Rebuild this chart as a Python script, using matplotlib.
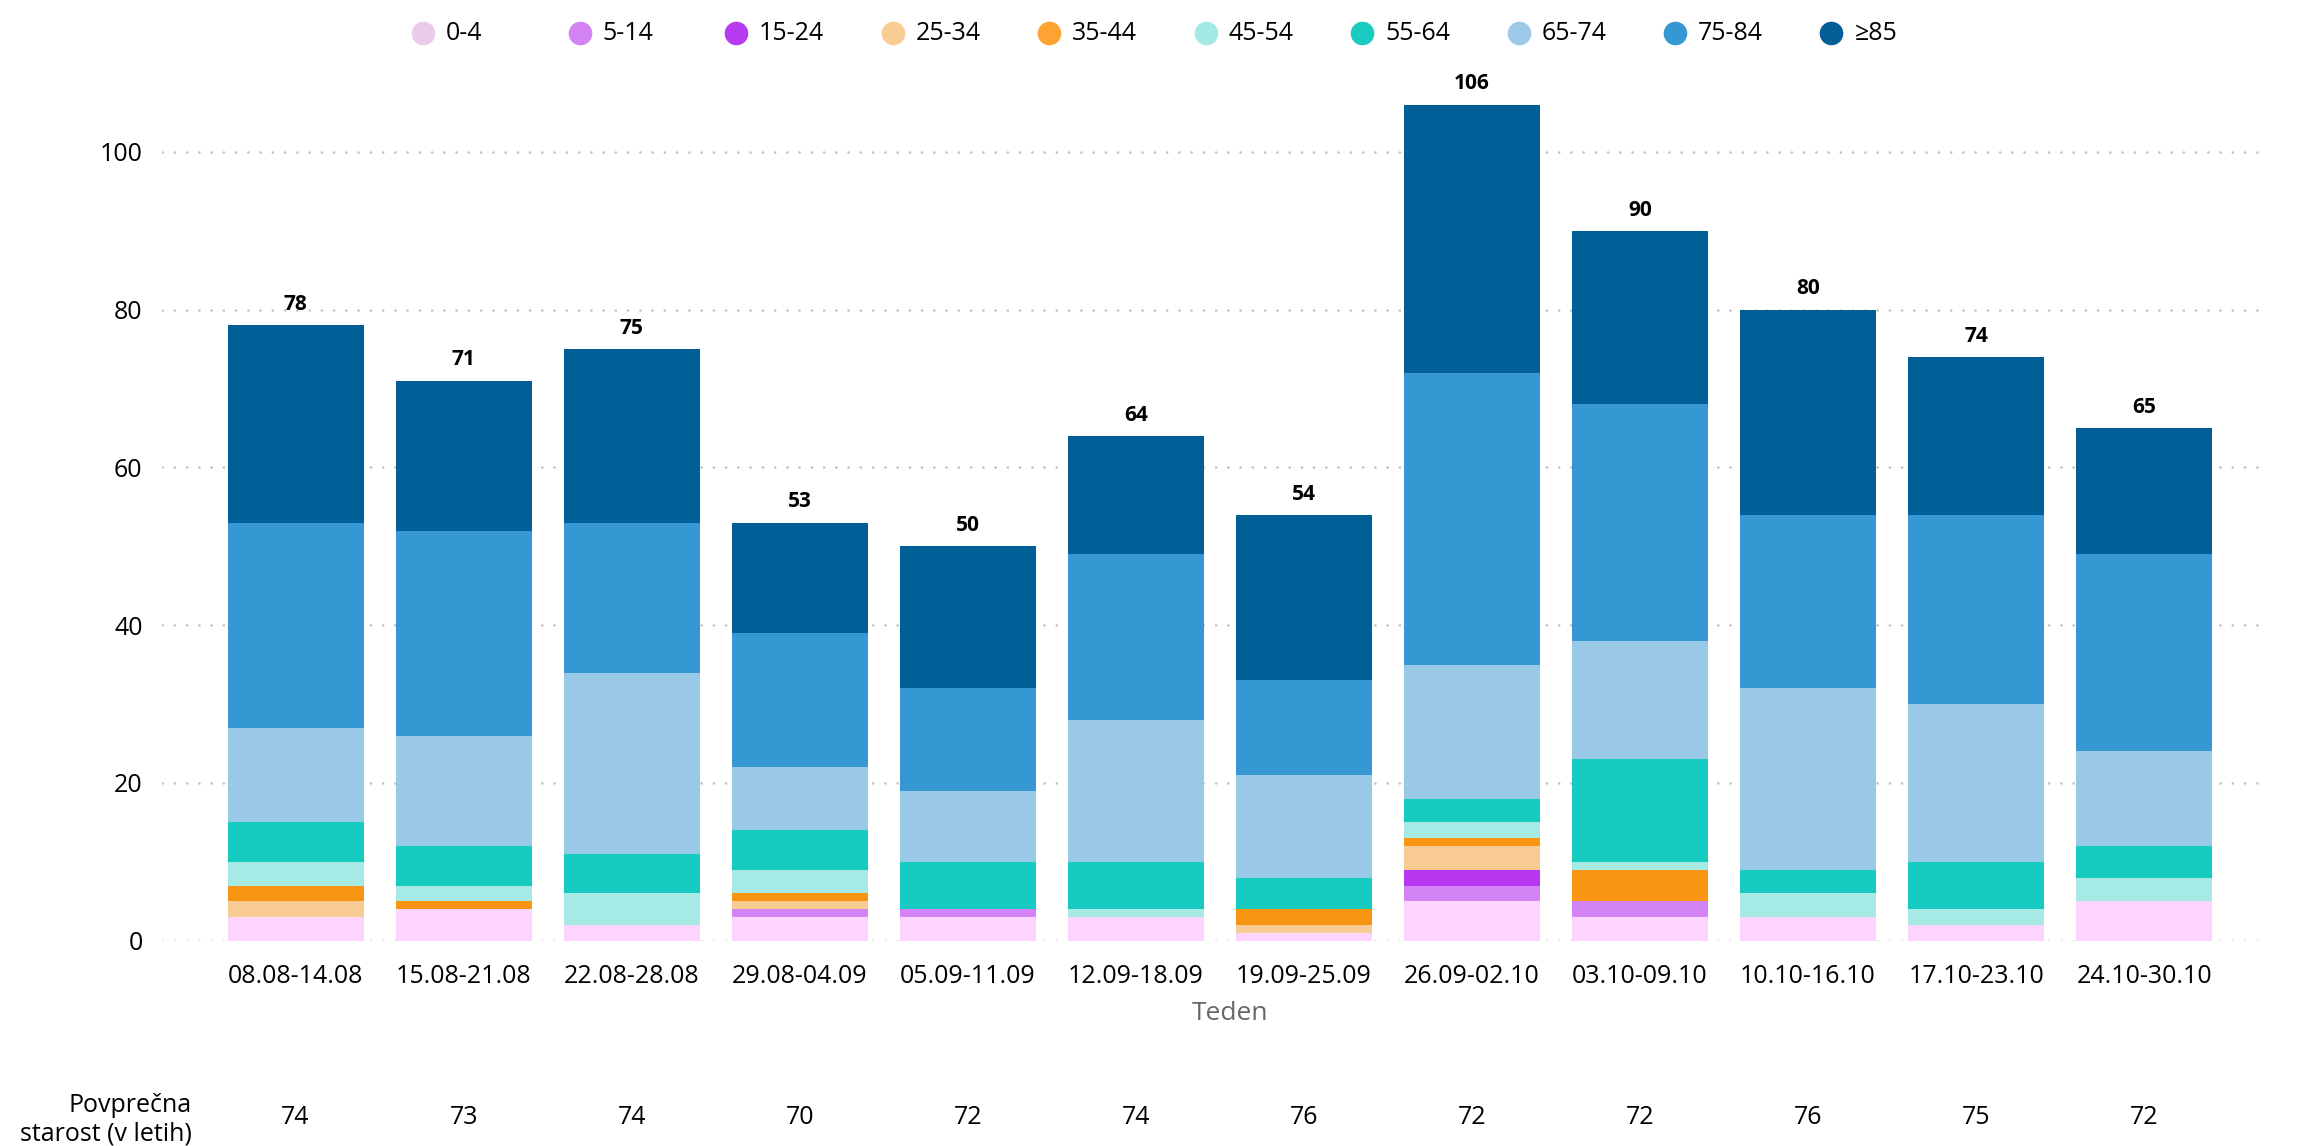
import numpy as np
import matplotlib
matplotlib.use("Agg")
import matplotlib.pyplot as plt
from matplotlib.transforms import blended_transform_factory
from matplotlib.lines import Line2D

plt.rcParams["font.family"] = ["Open Sans", "DejaVu Sans"]

# ---- data -------------------------------------------------------------
weeks = ["08.08-14.08", "15.08-21.08", "22.08-28.08", "29.08-04.09",
         "05.09-11.09", "12.09-18.09", "19.09-25.09", "26.09-02.10",
         "03.10-09.10", "10.10-16.10", "17.10-23.10", "24.10-30.10"]
age_groups = ["0-4", "5-14", "15-24", "25-34", "35-44",
              "45-54", "55-64", "65-74", "75-84", "≥85"]

g_0_4 = [3, 4, 2, 3, 3, 3, 1, 5, 3, 3, 2, 5]
g_5_14 = [0, 0, 0, 1, 1, 0, 0, 2, 2, 0, 0, 0]
g_15_24 = [0, 0, 0, 0, 0, 0, 0, 2, 0, 0, 0, 0]
g_25_34 = [2, 0, 0, 1, 0, 0, 1, 3, 0, 0, 0, 0]
g_35_44 = [2, 1, 0, 1, 0, 0, 2, 1, 4, 0, 0, 0]
g_45_54 = [3, 2, 4, 3, 0, 1, 0, 2, 1, 3, 2, 3]
g_55_64 = [5, 5, 5, 5, 6, 6, 4, 3, 13, 3, 6, 4]
g_65_74 = [12, 14, 23, 8, 9, 18, 13, 17, 15, 23, 20, 12]
g_75_84 = [26, 26, 19, 17, 13, 21, 12, 37, 30, 22, 24, 25]
g_85 = [25, 19, 22, 14, 18, 15, 21, 34, 22, 26, 20, 16]

avg_age = [74, 73, 74, 70, 72, 74, 76, 72, 72, 76, 75, 72]

series = [g_0_4, g_5_14, g_15_24, g_25_34, g_35_44,
          g_45_54, g_55_64, g_65_74, g_75_84, g_85]

bar_colors = ["#fdd4fd", "#d383f4", "#b637ef", "#f8cb93", "#fa9513",
              "#a5eae4", "#17cbc0", "#9ac9e7", "#3598d3", "#005f96"]
legend_colors = ["#ebcbeb", "#d383f4", "#b63bef", "#f9cc93", "#fda233",
                 "#a4eae4", "#19cbc0", "#9bc9e7", "#3598d3", "#035f96"]

# ---- figure -----------------------------------------------------------
fig = plt.figure(figsize=(23.01, 11.46), dpi=100)
ax = fig.add_axes([0.0704, 0.1791, 0.9140, 0.7572])

x = np.arange(len(weeks))
bottom = np.zeros(len(weeks))
for vals, col in zip(series, bar_colors):
    vals = np.array(vals, dtype=float)
    ax.bar(x, vals, bottom=bottom, width=0.81, color=col,
           edgecolor="none", linewidth=0, zorder=3)
    bottom += vals

for xi, tot in zip(x, bottom):
    ax.text(xi, tot + 1.3, f"{int(tot)}", ha="center", va="bottom",
            fontsize=15, fontweight="bold", color="#000000")

ax.set_xlim(-0.795, 11.72)
ax.set_ylim(0, 110)
ax.set_yticks([0, 20, 40, 60, 80, 100])
ax.set_xticks(x)
ax.set_xticklabels(weeks)
ax.tick_params(axis="both", length=0, labelsize=18, colors="#000000")
ax.tick_params(axis="x", pad=17)
ax.tick_params(axis="y", pad=14)
for sp in ax.spines.values():
    sp.set_visible(False)
ax.grid(axis="y", color="#c0c0c0", linewidth=1.8, linestyle=(0, (0.1, 4.8)),
        dash_capstyle="round", zorder=0)
ax.set_axisbelow(True)

fig.text(0.5345, 1 - 1013 / 1146, "Teden", ha="center", va="center",
         fontsize=19, color="#666666")

# average age row
trans = blended_transform_factory(ax.transData, fig.transFigure)
fig.text(192 / 2301, 1 - 1120 / 1146, "Povprečna\nstarost (v letih)",
         ha="right", va="center", fontsize=18, linespacing=1.2)
for xi, a in zip(x, avg_age):
    ax.text(xi, 1 - 1117 / 1146, f"{a}", transform=trans,
            ha="center", va="center", fontsize=18, clip_on=False)

# legend with equally spaced items
leg_y = 1 - 33 / 1146
for i, (lab, col) in enumerate(zip(age_groups, legend_colors)):
    mx = (423 + i * 156.5) / 2301
    fig.add_artist(Line2D([mx], [leg_y], marker="o", markersize=17,
                          markerfacecolor=col, markeredgecolor="none",
                          linestyle="none", transform=fig.transFigure))
    fig.text(mx + 23 / 2301, leg_y, lab, ha="left", va="center",
             fontsize=18, color="#000000")

fig.savefig("out.png", dpi=100)
